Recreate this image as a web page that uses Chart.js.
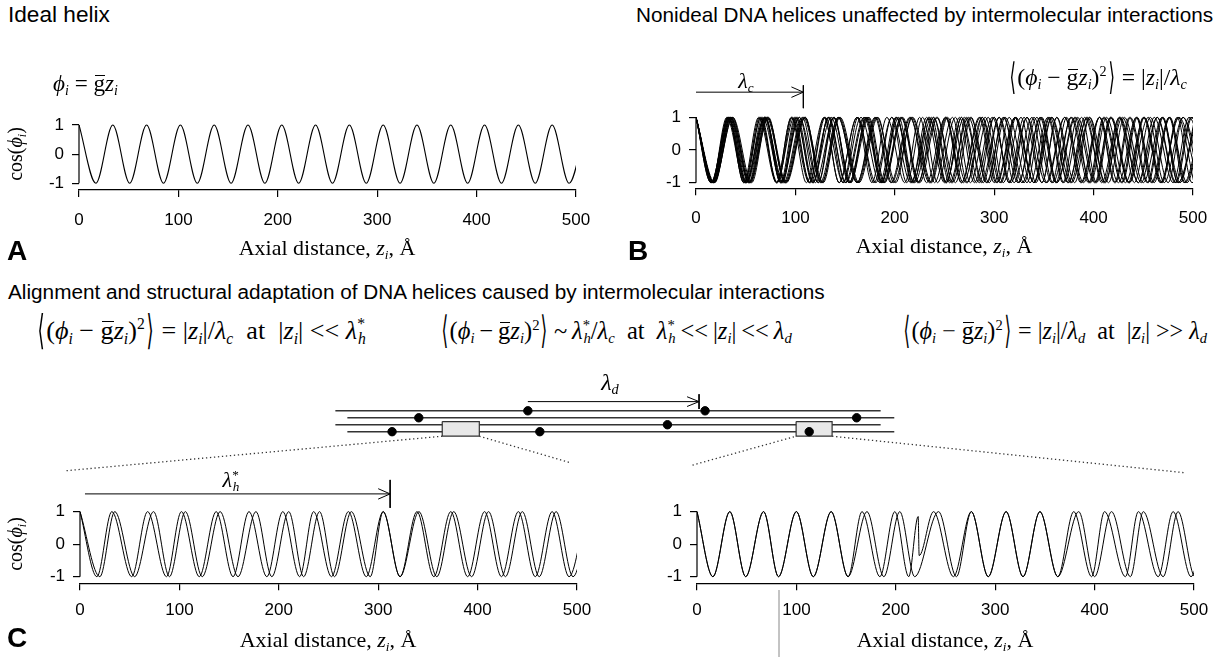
<!DOCTYPE html>
<html><head><meta charset="utf-8">
<script src="https://cdn.jsdelivr.net/npm/chart.js@4.4.1/dist/chart.umd.min.js"></script>
<style>
html,body{margin:0;padding:0;background:#fff;overflow:hidden}
#root{position:relative;width:1225px;height:657px;background:#fff;overflow:hidden}
canvas{position:absolute;display:block}
.t{position:absolute;white-space:nowrap;color:#000;line-height:1;left:0;top:0}
.sans{font-family:"Liberation Sans",Arial,sans-serif}
.m{font-family:"Liberation Serif","Times New Roman",serif}
.m i{font-style:italic}
.sb{font-size:0.6em;position:relative;top:0.3em;font-style:italic}
.sp{font-size:0.6em;position:relative;top:-0.62em}
.ov{position:relative;display:inline-block}
.ov::after{content:"";position:absolute;left:0.06em;right:0.0em;top:0.13em;border-top:1px solid #000}
.ab{display:inline-block;font-family:"DejaVu Sans",sans-serif;font-weight:normal;transform:scale(0.7,1.55)}
.lbl{font-family:"Liberation Sans",Arial,sans-serif;font-weight:bold;font-size:28px}
.bl{display:inline-block;width:0;height:0;vertical-align:baseline}
.ts{margin:0 0.2em}
</style></head>
<body><div id="root">
<canvas id="cA" width="620" height="180" style="left:0;top:60px"></canvas>
<canvas id="cB" width="605" height="180" style="left:620px;top:60px"></canvas>
<canvas id="cS" width="1225" height="130" style="left:0;top:355px"></canvas>
<canvas id="cL" width="620" height="200" style="left:0;top:457px"></canvas>
<canvas id="cR" width="605" height="200" style="left:620px;top:457px"></canvas>

<div class="t sans" data-x="8" data-y="22" data-w="102" style="font-size:17px">Ideal helix</div>
<div class="t sans" data-x="1213" data-y="22" data-a="r" data-w="577" style="font-size:17px">Nonideal DNA helices unaffected by intermolecular interactions</div>
<div class="t sans" data-x="8" data-y="299" data-w="817" style="font-size:17px">Alignment and structural adaptation of DNA helices caused by intermolecular interactions</div>

<div class="t lbl" data-x="7" data-y="260">A</div>
<div class="t lbl" data-x="628" data-y="260">B</div>
<div class="t lbl" data-x="7" data-y="647">C</div>

<div class="t m" data-x="327" data-y="255" data-a="c" style="font-size:22px">Axial distance, <i>z</i><span class="sb">i</span>, Å</div>
<div class="t m" data-x="944" data-y="253" data-a="c" style="font-size:22px">Axial distance, <i>z</i><span class="sb">i</span>, Å</div>
<div class="t m" data-x="328" data-y="647" data-a="c" style="font-size:22px">Axial distance, <i>z</i><span class="sb">i</span>, Å</div>
<div class="t m" data-x="945" data-y="647" data-a="c" style="font-size:22px">Axial distance, <i>z</i><span class="sb">i</span>, Å</div>

<div class="t m rot" data-cx="15" data-cy="154" style="font-size:20px">cos(<i>ϕ</i><span class="sb">i</span>)</div>
<div class="t m rot" data-cx="15" data-cy="544" style="font-size:20px">cos(<i>ϕ</i><span class="sb">i</span>)</div>

<div class="t m" data-x="53" data-y="91" data-w="65" style="font-size:22px"><i>ϕ</i><span class="sb">i</span> = <span class="ov">g</span><i>z</i><span class="sb">i</span></div>
<div class="t m" data-x="1008" data-y="85" data-w="179" style="font-size:23px"><span class="ab">⟨</span>(<i>ϕ</i><span class="sb">i</span> − <span class="ov">g</span><i>z</i><span class="sb">i</span>)<span class="sp">2</span><span class="ab">⟩</span> = |<i>z</i><span class="sb">i</span>|/<i>λ</i><span class="sb">c</span></div>

<div class="t m" data-x="36" data-y="339" data-w="330" style="font-size:25px"><span class="ab">⟨</span>(<i>ϕ</i><span class="sb">i</span> − <span class="ov">g</span><i>z</i><span class="sb">i</span>)<span class="sp">2</span><span class="ab">⟩</span> = |<i>z</i><span class="sb">i</span>|/<i>λ</i><span class="sb">c</span>&nbsp; at &nbsp;|<i>z</i><span class="sb">i</span>| &lt;&lt; <i>λ</i><span class="sp">*</span><span class="sb" style="margin-left:-0.45em">h</span></div>
<div class="t m" data-x="440" data-y="339" data-w="352" style="font-size:25px"><span class="ab">⟨</span>(<i>ϕ</i><span class="sb">i</span><span class="ts">−</span><span class="ov">g</span><i>z</i><span class="sb">i</span>)<span class="sp">2</span><span class="ab">⟩</span><span class="ts">~</span><i>λ</i><span class="sp">*</span><span class="sb" style="margin-left:-0.45em">h</span>/<i>λ</i><span class="sb">c</span> &nbsp;at&nbsp; <i>λ</i><span class="sp">*</span><span class="sb" style="margin-left:-0.45em">h</span><span class="ts">&lt;&lt;</span>|<i>z</i><span class="sb">i</span>|<span class="ts">&lt;&lt;</span><i>λ</i><span class="sb">d</span></div>
<div class="t m" data-x="1207" data-y="339" data-a="r" data-w="305" style="font-size:25px"><span class="ab">⟨</span>(<i>ϕ</i><span class="sb">i</span> − <span class="ov">g</span><i>z</i><span class="sb">i</span>)<span class="sp">2</span><span class="ab">⟩</span> = |<i>z</i><span class="sb">i</span>|/<i>λ</i><span class="sb">d</span>&nbsp; at &nbsp;|<i>z</i><span class="sb">i</span>| &gt;&gt; <i>λ</i><span class="sb">d</span></div>

<div class="t m" data-x="746" data-y="88" data-a="c" style="font-size:22px"><i>λ</i><span class="sb">c</span></div>
<div class="t m" data-x="231" data-y="487" data-a="c" style="font-size:22px"><i>λ</i><span class="sp">*</span><span class="sb" style="margin-left:-0.45em">h</span></div>
<div class="t m" data-x="610" data-y="390" data-a="c" style="font-size:24px"><i>λ</i><span class="sb">d</span></div>
</div>
<script>
// ---------------- data ----------------
const xTickValues = [0, 100, 200, 300, 400, 500];
const yTickValues = [-1, 0, 1];
// alternating extremum values cos(phi) = +1 / -1
const extremaCos = [1,-1,1,-1,1,-1,1,-1,1,-1,1,-1,1,-1,1,-1,1,-1,1,-1,1,-1,1,-1,1,-1,1,-1,1,-1,1,-1,1];

// Panel A: ideal helix, positions (Å) of successive maxima/minima
const idealZ = [0,17,34,51,68,85,102,119,136,153,170,187,204,221,238,255,272,289,306,323,340,357,374,391,408,425,442,459,476,493,510];

// Panel B: nonideal helices, positions of successive extrema of each molecule
const nonidealZ1  = [0,18,37,53,72,90,110,125,143,162,180,196,215,235,251,269,288,303,321,340,358,374,394,412,427,445,464,482,498,517];
const nonidealZ2  = [0,16,32,50,65,81,99,114,130,148,163,179,197,212,228,243,261,276,294,309,327,342,358,377,393,408,426,441,457,475,490,506];
const nonidealZ3  = [0,17,35,51,67,86,104,120,139,155,174,190,206,225,243,258,276,295,311,330,346,362,377,395,410,428,443,461,476,494,509];
const nonidealZ4  = [0,19,35,54,73,89,108,127,143,162,181,197,216,232,251,267,286,302,321,340,356,375,391,410,426,445,461,480,496,515];
const nonidealZ5  = [0,15,33,48,66,81,96,114,129,144,162,177,192,210,225,240,258,273,288,306,321,336,354,369,384,402,417,435,450,468,485,501];
const nonidealZ6  = [0,18,33,51,70,86,101,117,136,154,173,189,208,224,239,257,272,287,305,320,338,353,371,390,406,425,443,458,476,491,509];
const nonidealZ7  = [0,16,35,54,70,85,100,118,133,148,166,185,201,220,239,255,274,293,309,328,347,363,382,401,417,436,455,471,490,509];
const nonidealZ8  = [0,18,36,55,71,90,109,128,144,163,182,201,217,236,252,267,285,300,315,333,348,363,381,396,411,429,444,459,477,492,510];
const nonidealZ9  = [0,16,31,49,64,82,97,115,134,150,169,187,202,217,232,250,265,280,298,317,333,352,371,387,406,422,437,455,470,485,503];
const nonidealZ10 = [0,17,32,50,69,85,104,123,139,154,172,187,202,218,237,252,267,285,300,315,333,348,363,381,396,411,429,448,464,483,499,516];
const nonidealZ11 = [0,18,34,50,69,87,102,118,133,151,170,188,207,223,242,261,277,292,310,325,340,358,373,388,406,421,436,454,469,487,502];
const nonidealZ12 = [0,16,34,53,69,88,107,123,138,156,171,186,204,219,234,252,267,282,300,315,330,348,363,378,396,415,431,450,469,485,504];
const nonidealZ13 = [0,15,33,48,63,81,96,111,129,144,162,181,197,216,235,251,270,289,305,324,343,359,378,397,413,432,451,467,486,505];
const nonidealZ14 = [0,18,37,56,72,91,110,126,145,164,183,199,218,237,253,272,291,307,322,340,355,370,388,403,418,436,451,469,484,499,517];

// Panel C left: two interacting helices (short range)
const alignedZ1 = [0,17,32,52,68,87,102,120,137,154,170,188,204,221,235,253,270,288,305,322,339,356,373,390,407,424,441,458,475,492,509];
const alignedZ2 = [0,20,35,55,74,90,106,123,141,159,177,193,210,225,241,256,273,292,305,322,341,359,376,394,411,428,445,462,479,496,513];

// Panel C right: two interacting helices with a defect
const adaptedZ1   = [0,16,33,49,67,82,100,117,135,152,166,184,199,213,222.5,223.5,238,258,276,293,311,328,345,363,379,397,410,431,444,464,479,497,512];
const adaptedCos1 = [1,-1,1,-1,1,-1,1,-1,1,-1,1,-1,1,-1,0.85,-0.35,1,-1,1,-1,1,-1,1,-1,1,-1,1,-1,1,-1,1,-1,1];
const adaptedZ2   = [0,16,33,49,67,82,100,117,135,152,171,188,204,219,243,261,276,293,311,328,345,363,384,400,417,436,449,469,484,501,518];

// annotation values (Å)
const lambdaC = 108;
const lambdaHStar = 312;
const defectZ = [223];
const defectMark = [1.36];

// schematic of aligned molecules (arbitrary units along the molecules; strands numbered 1..4)
const strandStart = [0, 2.2, 0, 2.2];
const strandEnd   = [100, 102.5, 100, 102.5];
const strandLevel = [1, 2, 3, 4];
const beadX     = [15.3, 10.4, 35.3, 37.5, 67.8, 60.9, 95.6, 86.9];
const beadLevel = [2, 4, 1, 4, 1, 3, 2, 4];
const boxX = [[19.6, 26.4], [84.5, 91.1]];
const boxLevel = [2.55, 4.65];
const lambdaDStart = 35.3, lambdaDEnd = 66.7;
</script>
<script>
Chart.defaults.animation = false;
Chart.defaults.font.family = '"Liberation Sans", Arial, sans-serif';
Chart.defaults.font.size = 17;
Chart.defaults.color = '#000';

function placeAll(){
  document.querySelectorAll('.t').forEach(el=>{
    if (el.dataset.w){
      const fs = parseFloat(getComputedStyle(el).fontSize);
      const w = el.getBoundingClientRect().width;
      el.style.fontSize = (fs * (+el.dataset.w) / w) + 'px';
    }
    if (el.classList.contains('rot')){
      const r = el.getBoundingClientRect();
      el.style.left = (+el.dataset.cx - r.width/2) + 'px';
      el.style.top = (+el.dataset.cy - r.height/2) + 'px';
      el.style.transform = 'rotate(-90deg)';
      return;
    }
    const mk = document.createElement('span'); mk.className = 'bl'; el.appendChild(mk);
    const r = el.getBoundingClientRect(), m = mk.getBoundingClientRect();
    const base = m.top - r.top, a = el.dataset.a || 'l';
    el.style.left = (+el.dataset.x - (a==='c' ? r.width/2 : a==='r' ? r.width : 0)) + 'px';
    el.style.top = (+el.dataset.y - base) + 'px';
  });
}

function curve(zs, ys, w){
  return { data: zs.map((z,i)=>({x:z, y:ys[i]})), borderColor:'#000', borderWidth:w||1,
    pointRadius:0, cubicInterpolationMode:'monotone', fill:false };
}
function seg(pts, opts){
  return Object.assign({ data: pts.map(p=>({x:p[0], y:p[1]})), borderColor:'#000', borderWidth:1,
    pointRadius:0, tension:0, fill:false, clip:false }, opts||{});
}
function arrowSets(x0, x1, y, hw, hh, bt, bb){
  return [ seg([[x0,y],[x1,y]]), seg([[x1-hw,y+hh],[x1,y],[x1-hw,y-hh]]), seg([[x1,bt],[x1,bb]]) ];
}

const yAxisLine = { id:'yAxisLine', afterDatasetsDraw(chart){
  const ys = chart.scales.y, x = chart.chartArea.left, ctx = chart.ctx;
  ctx.save(); ctx.strokeStyle = '#000'; ctx.lineWidth = 1.2; ctx.beginPath();
  ctx.moveTo(x, ys.getPixelForValue(yTickValues[yTickValues.length-1]));
  ctx.lineTo(x, ys.getPixelForValue(yTickValues[0])); ctx.stroke(); ctx.restore();
}};

function panel(id, box, area, ymin, ymax, xPad, datasets){
  const yW = area.left - box.left;
  const xH = box.top + box.height - area.bottom;
  return new Chart(document.getElementById(id), {
    type:'line',
    data:{ datasets },
    options:{
      responsive:false, devicePixelRatio:1, animation:false,
      layout:{ padding:{ left:0, right: box.left + box.width - area.right, top: area.top - box.top, bottom:0 } },
      elements:{ line:{ capBezierPoints:false } },
      plugins:{ legend:{display:false}, tooltip:{enabled:false} },
      scales:{
        x:{ type:'linear', min:0, max:500,
            afterFit(s){ s.height = xH; },
            afterBuildTicks(s){ s.ticks = xTickValues.map(v=>({value:v})); },
            grid:{ display:true, drawOnChartArea:false, drawTicks:true, tickLength:7, color:'#000', lineWidth:1.2 },
            border:{ display:true, color:'#000', width:1.2 },
            ticks:{ font:{size:17}, color:'#000', padding:xPad, maxRotation:0 } },
        y:{ type:'linear', min:ymin, max:ymax,
            afterFit(s){ s.width = yW; },
            afterBuildTicks(s){ s.ticks = yTickValues.map(v=>({value:v})); },
            grid:{ display:true, drawOnChartArea:false, drawTicks:true, tickLength:7, color:'#000', lineWidth:1.2 },
            border:{ display:false },
            ticks:{ font:{size:17}, color:'#000', padding:8 } }
      }
    },
    plugins:[yAxisLine]
  });
}

// Panel A
panel('cA', {left:0, top:60, width:620, height:180}, {left:79, right:576, top:123.5, bottom:190}, -1.23, 1.05, 13,
  [curve(idealZ, extremaCos, 1.1)]);

// Panel B
const nonideal = [nonidealZ1,nonidealZ2,nonidealZ3,nonidealZ4,nonidealZ5,nonidealZ6,nonidealZ7,
                  nonidealZ8,nonidealZ9,nonidealZ10,nonidealZ11,nonidealZ12,nonidealZ13,nonidealZ14];
panel('cB', {left:620, top:60, width:605, height:180}, {left:696, right:1193, top:115.7, bottom:188.3}, -1.171, 1.05, 13,
  nonideal.map(z=>curve(z, extremaCos, 1)).concat(arrowSets(0, lambdaC, 1.77, 12, 0.16, 1.98, 1.28)));

// Panel C left
panel('cL', {left:0, top:457, width:620, height:200}, {left:80, right:577, top:510, bottom:583.3}, -1.203, 1.05, 10,
  [curve(alignedZ1, extremaCos, 1), curve(alignedZ2, extremaCos, 1)]
  .concat(arrowSets(5, lambdaHStar, 1.545, 12, 0.16, 1.975, 1.115)));

// Panel C right
panel('cR', {left:620, top:457, width:605, height:200}, {left:697, right:1194, top:510, bottom:583.3}, -1.203, 1.05, 10,
  [curve(adaptedZ1, adaptedCos1, 1), curve(adaptedZ2, extremaCos, 1),
   { type:'scatter', data: defectZ.map((z,i)=>({x:z, y:defectMark[i]})), pointRadius:4, pointBackgroundColor:'#000', borderColor:'#000', showLine:false, clip:false },
   seg([[82.5,-1.41],[82.5,-3.5]], {borderColor:'#bbbbbb', borderWidth:1})]);

// Schematic
(function(){
  const ds = [];
  ds.push({ type:'scatter', data: beadX.map((x,i)=>({x, y:beadLevel[i]})), pointRadius:4.2, pointBackgroundColor:'#000', borderColor:'#000', showLine:false, clip:false });
  boxX.forEach(b=>{
    ds.push(seg([[b[0],boxLevel[0]],[b[1],boxLevel[0]],[b[1],boxLevel[1]],[b[0],boxLevel[1]],[b[0],boxLevel[0]]],
      {borderColor:'#333', borderWidth:1.2, backgroundColor:'#e8e8e8', fill:'shape'}));
  });
  strandLevel.forEach((lv,i)=>ds.push(seg([[strandStart[i],lv],[strandEnd[i],lv]], {borderColor:'#333', borderWidth:1.5})));
  arrowSets(lambdaDStart, lambdaDEnd, -0.32, 2.2, 0.7, -1.38, 0.74).forEach(d=>ds.push(d));
  const dot = {borderColor:'#333', borderWidth:1.3, borderDash:[1.3,2.7]};
  ds.push(seg([[-49.3,9.6],[boxX[0][0],boxLevel[1]]], dot));
  ds.push(seg([[boxX[0][1],boxLevel[1]],[43.3,8.5]], dot));
  ds.push(seg([[65.5,8.8],[boxX[1][0],boxLevel[1]]], dot));
  ds.push(seg([[boxX[1][1],boxLevel[1]],[155.8,9.9]], dot));
  new Chart(document.getElementById('cS'), {
    type:'line', data:{datasets:ds},
    options:{ responsive:false, devicePixelRatio:1, animation:false,
      layout:{padding:0},
      plugins:{ legend:{display:false}, tooltip:{enabled:false} },
      scales:{ x:{type:'linear', min:-60.55, max:162.2, display:false},
               y:{type:'linear', min:-6.27, max:10.91, reverse:true, display:false} } }
  });
})();

placeAll();
</script>
</body></html>
